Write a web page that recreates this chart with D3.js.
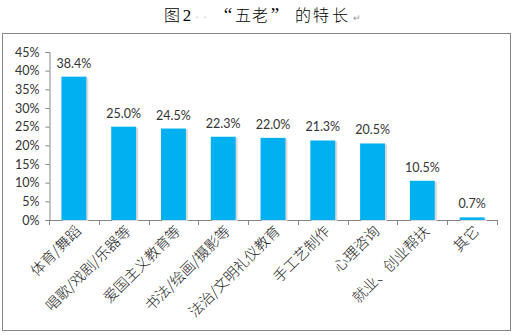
<!DOCTYPE html>
<html>
<head>
<meta charset="utf-8">
<script src="https://cdn.jsdelivr.net/npm/d3@7"></script>
<style>
  html, body { margin: 0; padding: 0; background: #fff; }
  svg { display: block; }
</style>
</head>
<body>
<svg id="chart" width="515" height="335"></svg>
<script>
// Specialties of the "five elders" volunteers (share of respondents)
const categories = ["体育/舞蹈", "唱歌/戏剧/乐器等", "爱国主义教育等", "书法/绘画/摄影等",
  "法治/文明礼仪教育", "手工艺制作", "心理咨询", "就业、创业帮扶", "其它"];
const values = [38.4, 25.0, 24.5, 22.3, 22.0, 21.3, 20.5, 10.5, 0.7];
const yTicks = [0, 5, 10, 15, 20, 25, 30, 35, 40, 45];

const svg = d3.select("#chart");
const latin = "Lato, 'Open Sans', sans-serif";
const cjk = "'Noto Sans CJK SC', sans-serif";
const serif = "'Liberation Serif', serif";

// Caption, typeset glyph by glyph (formatting marks in grey)
const caption = [
  { t: "图", cx: 172, f: cjk, c: "#000", s: 16 },
  { t: "2", cx: 187, f: serif, c: "#000", s: 17 },
  { t: "·", cx: 197, f: serif, c: "#bbb", s: 12 },
  { t: "·", cx: 205, f: serif, c: "#bbb", s: 12 },
  { t: "“", cx: 228, f: serif, c: "#000", s: 19 },
  { t: "五", cx: 243, f: cjk, c: "#000", s: 16 },
  { t: "老", cx: 260, f: cjk, c: "#000", s: 16 },
  { t: "”", cx: 275, f: serif, c: "#000", s: 19 },
  { t: "的", cx: 303, f: cjk, c: "#000", s: 16 },
  { t: "特", cx: 321, f: cjk, c: "#000", s: 16 },
  { t: "长", cx: 340, f: cjk, c: "#000", s: 16 },
  { t: "↵", cx: 357, f: "'DejaVu Sans', sans-serif", c: "#999", s: 9 }
];
svg.append("g").selectAll("text").data(caption).join("text")
  .attr("x", d => d.cx).attr("y", 21)
  .attr("text-anchor", "middle")
  .attr("font-family", d => d.f)
  .attr("font-weight", 300)
  .attr("font-size", d => d.s)
  .attr("fill", d => d.c)
  .text(d => d.t);

// Chart frame
svg.append("rect")
  .attr("x", 2.5).attr("y", 33.5)
  .attr("width", 508).attr("height", 297)
  .attr("fill", "#fff")
  .attr("stroke", "#868686").attr("stroke-width", 1);

const x = d3.scaleBand().domain(categories).range([49, 497]).paddingInner(0.5).paddingOuter(0.25);
const y = d3.scaleLinear().domain([0, 45]).range([220, 52]);

// Y axis
const yAxis = svg.append("g")
  .attr("transform", "translate(49.5,0)")
  .call(d3.axisLeft(y).tickValues(yTicks).tickSize(4).tickPadding(6)
    .tickFormat(d => d + "%"));
yAxis.select(".domain").attr("stroke", "#868686");
yAxis.selectAll(".tick line").attr("stroke", "#868686");
yAxis.selectAll(".tick text")
  .attr("font-family", latin).attr("font-size", 12.5).attr("fill", "#333");

// X axis with ticks between categories
const xAxisG = svg.append("g");
xAxisG.append("line")
  .attr("x1", 49).attr("x2", 497)
  .attr("y1", 220.5).attr("y2", 220.5)
  .attr("stroke", "#868686");
const boundaries = d3.range(categories.length + 1).map(i => 49 + i * x.step());
xAxisG.selectAll("line.tk").data(boundaries).join("line")
  .attr("class", "tk")
  .attr("x1", d => Math.round(d) + 0.5).attr("x2", d => Math.round(d) + 0.5)
  .attr("y1", 220).attr("y2", 225)
  .attr("stroke", "#868686");

// Bar shadows
svg.append("g").selectAll("rect").data(values).join("rect")
  .attr("x", (d, i) => x(categories[i]) + 1)
  .attr("y", d => y(d) + 1)
  .attr("width", x.bandwidth() + 1)
  .attr("height", d => y(0) - y(d))
  .attr("fill", "#dadada");

// Bars
svg.append("g").selectAll("rect").data(values).join("rect")
  .attr("x", (d, i) => x(categories[i]))
  .attr("y", d => y(d))
  .attr("width", x.bandwidth())
  .attr("height", d => y(0) - y(d))
  .attr("fill", "#00B0F0");

// Value labels
svg.append("g").selectAll("text").data(values).join("text")
  .attr("x", (d, i) => x(categories[i]) + x.bandwidth() / 2)
  .attr("y", d => y(d) - 9)
  .attr("text-anchor", "middle")
  .attr("font-family", latin).attr("font-size", 12.5).attr("fill", "#333")
  .text(d => d.toFixed(1) + "%");

// Rotated category labels
svg.append("g").selectAll("text").data(categories).join("text")
  .attr("transform", d => `translate(${x(d) + x.bandwidth() / 2 + 8},${232}) rotate(-45)`)
  .attr("text-anchor", "end")
  .attr("font-family", cjk).attr("font-weight", 300)
  .attr("font-size", 14.5).attr("fill", "#222")
  .text(d => d);
</script>
</body>
</html>
